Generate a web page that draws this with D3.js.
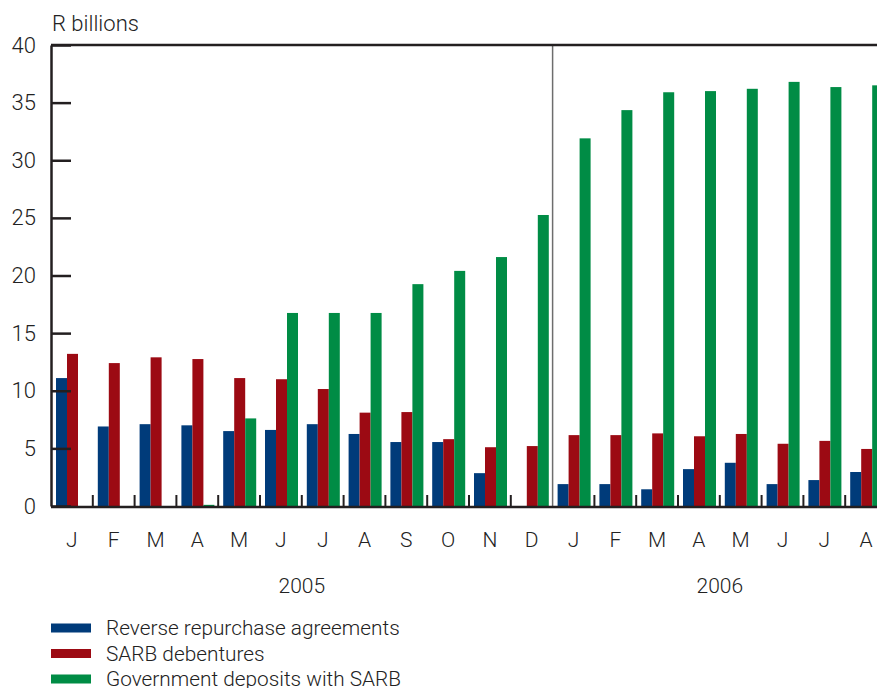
<!DOCTYPE html>
<html>
<head>
<meta charset="utf-8">
<script src="https://cdn.jsdelivr.net/npm/d3@7"></script>
<style>
  body { margin: 0; background: #fff; }
  svg text { font-family: Roboto, "Liberation Sans", Arial, sans-serif; font-weight: 300; fill: #222; }
</style>
</head>
<body>
<script>
// month labels, Jan 2005 .. Aug 2006
const months = ['J','F','M','A','M','J','J','A','S','O','N','D','J','F','M','A','M','J','J','A']
const years = [{label: '2005', from: 0, to: 11}, {label: '2006', from: 12, to: 19}]
const seriesNames = ['Reverse repurchase agreements', 'SARB debentures', 'Government deposits with SARB']
const seriesColors = ['#003b7a', '#9c0a13', '#008c45']

// R billions
const reverseRepos = [11.1, 6.9, 7.1, 7.0, 6.5, 6.6, 7.1, 6.25, 5.55, 5.55, 2.85, 0, 1.9, 1.9, 1.45, 3.2, 3.75, 1.9, 2.25, 2.95]
const debentures   = [13.2, 12.4, 12.9, 12.75, 11.1, 11.0, 10.15, 8.1, 8.15, 5.8, 5.1, 5.2, 6.15, 6.15, 6.3, 6.05, 6.25, 5.4, 5.65, 4.95]
const govDeposits  = [0, 0, 0, 0.1, 7.6, 16.75, 16.75, 16.75, 19.25, 20.4, 21.6, 25.25, 31.9, 34.35, 35.9, 36.0, 36.2, 36.8, 36.35, 36.5]
const yTicks = [0, 5, 10, 15, 20, 25, 30, 35, 40]

const width = 877, height = 688
const plotLeft = 51, plotTop = 45, plotBottom = 506
const groupW = 41.8

let svg = d3.select('body').append('svg')
  .attr('width', width)
  .attr('height', height)

let x = d3.scaleBand()
  .domain(d3.range(months.length))
  .range([plotLeft, plotLeft + groupW*months.length])
  .padding(0)
let xInner = d3.scaleBand()
  .domain(d3.range(3))
  .range([5, 38])
let y = d3.scaleLinear().domain([0, 40]).range([plotBottom, plotTop])

let data = [reverseRepos, debentures, govDeposits]

// bars
let groups = svg.append('g').attr('id', 'bars')
  .selectAll('g').data(months).join('g')
  .attr('transform', (d, i) => `translate(${x(i)},0)`)
groups.selectAll('rect')
  .data((d, i) => data.map((s, k) => ({k: k, v: s[i]})))
  .join('rect')
  .attr('x', d => xInner(d.k))
  .attr('width', xInner.bandwidth())
  .attr('y', d => y(d.v))
  .attr('height', d => y(0) - y(d.v))
  .attr('fill', d => seriesColors[d.k])

// year divider
svg.append('line')
  .attr('x1', x(12)).attr('x2', x(12))
  .attr('y1', plotTop).attr('y2', plotBottom)
  .attr('stroke', '#6d6d6d').attr('stroke-width', 1.5)

// y axis
let yAxis = svg.append('g')
  .attr('transform', `translate(${plotLeft},0)`)
  .call(d3.axisLeft(y).tickValues(yTicks).tickSizeInner(-20).tickSizeOuter(0).tickPadding(15))
yAxis.select('.domain').attr('stroke', '#231f20').attr('stroke-width', 2.5)
yAxis.selectAll('.tick line').attr('stroke', '#231f20').attr('stroke-width', 2.5)
yAxis.selectAll('.tick text').style('font-size', '22px').attr('fill', '#222')

// top border
svg.append('line')
  .attr('x1', plotLeft).attr('x2', width)
  .attr('y1', plotTop).attr('y2', plotTop)
  .attr('stroke', '#231f20').attr('stroke-width', 2.5)

// x axis line + small ticks between months
svg.append('line')
  .attr('x1', plotLeft).attr('x2', width)
  .attr('y1', plotBottom + 1).attr('y2', plotBottom + 1)
  .attr('stroke', '#231f20').attr('stroke-width', 2.5)
svg.append('g').selectAll('line')
  .data(d3.range(1, months.length).filter(i => i !== 12))
  .join('line')
  .attr('x1', i => x(i)).attr('x2', i => x(i))
  .attr('y1', plotBottom - 11).attr('y2', plotBottom)
  .attr('stroke', '#231f20').attr('stroke-width', 2)

// month labels
svg.append('g').selectAll('text')
  .data(months).join('text')
  .attr('x', (d, i) => x(i) + x.bandwidth()/2)
  .attr('y', 547)
  .attr('text-anchor', 'middle')
  .style('font-size', '21px')
  .text(d => d)

// year labels
svg.append('g').selectAll('text')
  .data(years).join('text')
  .attr('x', d => (x(d.from) + x(d.to) + x.bandwidth())/2)
  .attr('y', 593)
  .attr('text-anchor', 'middle')
  .style('font-size', '21px')
  .text(d => d.label)

// unit label
svg.append('text')
  .attr('x', 52).attr('y', 31)
  .style('font-size', '22px')
  .text('R billions')

// legend
let legend = svg.append('g').attr('transform', 'translate(51,628)')
let items = legend.selectAll('g').data(seriesNames).join('g')
  .attr('transform', (d, i) => `translate(0,${i*25.5})`)
items.append('rect')
  .attr('x', 0).attr('y', -4.5)
  .attr('width', 40).attr('height', 9)
  .attr('fill', (d, i) => seriesColors[i])
items.append('text')
  .attr('x', 55).attr('y', 7)
  .style('font-size', '20.8px')
  .text(d => d)
</script>
</body>
</html>
